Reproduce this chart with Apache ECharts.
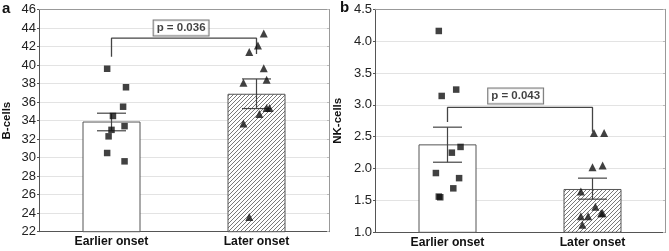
<!DOCTYPE html>
<html>
<head>
<meta charset="utf-8">
<script src="https://cdn.jsdelivr.net/npm/echarts@6/dist/echarts.min.js"></script>
<style>
html, body { margin: 0; padding: 0; background: #fff; }
#chart { width: 669px; height: 251px; }
</style>
</head>
<body>
<div id="chart"></div>
<script>
var categories = ['Earlier onset', 'Later onset'];

// panel a - B-cells
var bMean = [33.9, 36.9];
var bErrLow = [32.9, 35.3];
var bErrHigh = [34.8, 38.5];
var bEarly = [39.6, 37.6, 35.5, 34.5, 33.0, 33.4, 32.3, 30.5, 29.6];
var bEarlyDx = [-0.03, 0.10, 0.08, 0.01, 0, 0.09, -0.02, -0.03, 0.09];
var bLate = [43.4, 42.1, 41.4, 39.65, 38.1, 38.4, 35.35, 35.35, 34.7, 33.7, 23.6];
var bLateDx = [0.05, 0.01, -0.05, 0.05, -0.09, 0.07, 0.07, 0.09, 0.02, -0.09, -0.05];
var bBracket = [40.9, 42.9, 41.2];
var bPText = 'p = 0.036';
var bPPos = [0.48, 44.0];
var bTicks = [22, 46, 2];

// panel b - NK-cells
var nkMean = [2.38, 1.68];
var nkErrLow = [2.10, 1.52];
var nkErrHigh = [2.65, 1.85];
var nkEarly = [4.16, 3.14, 3.24, 2.34, 2.25, 1.93, 1.85, 1.69, 1.56, 1.55];
var nkEarlyDx = [-0.06, -0.04, 0.06, 0.09, 0.03, -0.08, 0.08, 0.04, -0.06, -0.05];
var nkLate = [2.56, 2.56, 2.02, 2.05, 1.64, 1.40, 1.25, 1.25, 1.30, 1.30, 1.12];
var nkLateDx = [0.01, 0.08, 0, 0.07, -0.08, 0.02, -0.08, -0.03, 0.06, 0.07, -0.07];
var nkBracket = [2.73, 2.96, 2.58];
var nkPText = 'p = 0.043';
var nkPPos = [0.47, 3.14];
var nkTicks = [1, 4.5, 0.5];

var myChart = echarts.init(document.getElementById('chart'));

// hatch fill for the "Later onset" bar
var hatch = document.createElement('canvas');
hatch.width = 4; hatch.height = 4;
var ctx = hatch.getContext('2d');
ctx.fillStyle = '#fff';
ctx.fillRect(0, 0, 4, 4);
ctx.strokeStyle = '#6a6a6a';
ctx.lineWidth = 0.9;
ctx.beginPath();
ctx.moveTo(0, 4); ctx.lineTo(4, 0);
ctx.moveTo(-1, 1); ctx.lineTo(1, -1);
ctx.moveTo(3, 5); ctx.lineTo(5, 3);
ctx.stroke();

var FONT = 'Liberation Sans, Arial, sans-serif';

function errRender(params, api) {
    var x = api.value(0), lo = api.value(1), hi = api.value(2);
    var pLo = api.coord([x, lo]), pHi = api.coord([x, hi]);
    var cl = api.coord([x - 0.1, lo])[0], cr = api.coord([x + 0.1, lo])[0];
    var st = { stroke: '#444', lineWidth: 1.2 };
    return {
        type: 'group',
        children: [
            { type: 'line', shape: { x1: pLo[0], y1: pLo[1], x2: pHi[0], y2: pHi[1] }, style: st },
            { type: 'line', shape: { x1: cl, y1: pLo[1], x2: cr, y2: pLo[1] }, style: st },
            { type: 'line', shape: { x1: cl, y1: pHi[1], x2: cr, y2: pHi[1] }, style: st }
        ]
    };
}

var xAxes = [], yAxes = [], series = [];

function addPanel(gi, name, ticks, mean, lo, hi, early, earlyDx, late, lateDx, bracket, pText, pPos, decimals) {
    xAxes.push({
        type: 'category', gridIndex: gi, data: categories,
        axisLine: { onZero: false, lineStyle: { color: '#555' } },
        axisTick: { show: true, alignWithLabel: true, inside: true, length: 2, lineStyle: { color: '#bbb' } },
        axisLabel: { color: '#111', fontWeight: 'bold', fontSize: 12.2, fontFamily: FONT, margin: 4 }
    });
    xAxes.push({
        type: 'value', gridIndex: gi, min: -0.5, max: 1.5, position: 'top',
        axisLine: { show: true, onZero: false, lineStyle: { color: '#999' } },
        axisTick: { show: false }, axisLabel: { show: false }, splitLine: { show: false }
    });
    yAxes.push({
        type: 'value', gridIndex: gi, min: ticks[0], max: ticks[1], interval: ticks[2],
        name: name, nameLocation: 'middle', nameGap: gi === 0 ? 26 : 31,
        nameTextStyle: { color: '#111', fontWeight: 'bold', fontSize: 11.5, fontFamily: FONT },
        axisLine: { show: true, onZero: false, lineStyle: { color: '#555' } },
        axisTick: { show: true, length: 2, lineStyle: { color: '#555' } },
        axisLabel: {
            color: '#222', fontSize: 13, fontFamily: FONT, margin: 3,
            formatter: function (v) { return v.toFixed(decimals); }
        },
        splitLine: { lineStyle: { color: '#e3e3e3' } }
    });
    yAxes.push({
        type: 'value', gridIndex: gi, min: ticks[0], max: ticks[1], interval: ticks[2], position: 'right',
        axisLine: { show: true, onZero: false, lineStyle: { color: '#999' } },
        axisTick: { show: true, inside: true, length: 2, lineStyle: { color: '#bbb' } },
        axisLabel: { show: false }, splitLine: { show: false }
    });
    var xc = 2 * gi, xv = 2 * gi + 1, y = 2 * gi;
    series.push({
        type: 'bar', xAxisIndex: xc, yAxisIndex: y, barWidth: '40%',
        itemStyle: { borderColor: '#555', borderWidth: 1 },
        data: [
            { value: mean[0], itemStyle: { color: '#fff' } },
            { value: mean[1], itemStyle: { color: { image: hatch, repeat: 'repeat' } } }
        ],
        z: 1
    });
    series.push({
        type: 'custom', xAxisIndex: xv, yAxisIndex: y, renderItem: errRender,
        encode: { x: 0, y: [1, 2] },
        data: [[0, lo[0], hi[0]], [1, lo[1], hi[1]]],
        z: 3
    });
    series.push({
        type: 'line', xAxisIndex: xv, yAxisIndex: y, symbol: 'none',
        lineStyle: { color: '#444', width: 1.3 },
        data: [[0, bracket[0]], [0, bracket[1]], [1, bracket[1]], [1, bracket[2]]],
        z: 3
    });
    series.push({
        type: 'scatter', xAxisIndex: xv, yAxisIndex: y, symbol: 'rect', symbolSize: 6.5,
        itemStyle: { color: '#111' },
        data: early.map(function (v, i) { return [earlyDx[i], v]; }),
        z: 4
    });
    series.push({
        type: 'scatter', xAxisIndex: xv, yAxisIndex: y, symbol: 'triangle', symbolSize: 8,
        itemStyle: { color: '#111' },
        data: late.map(function (v, i) { return [1 + lateDx[i], v]; }),
        z: 4
    });
    series.push({
        type: 'scatter', xAxisIndex: xv, yAxisIndex: y, symbolSize: 0,
        label: {
            show: true, position: 'inside', formatter: pText,
            color: '#111', fontWeight: 'bold', fontSize: 11.5, fontFamily: FONT,
            backgroundColor: '#fff', borderColor: '#555', borderWidth: 1, padding: [2, 3, 1, 3]
        },
        data: [pPos],
        z: 5
    });
}

addPanel(0, 'B-cells', bTicks, bMean, bErrLow, bErrHigh, bEarly, bEarlyDx, bLate, bLateDx, bBracket, bPText, bPPos, 0);
addPanel(1, 'NK-cells', nkTicks, nkMean, nkErrLow, nkErrHigh, nkEarly, nkEarlyDx, nkLate, nkLateDx, nkBracket, nkPText, nkPPos, 1);

option = {
    animation: false,
    backgroundColor: '#fff',
    grid: [
        { left: 33, right: 340, top: 9.5, bottom: 19.3 },
        { left: 375, right: 4, top: 9.3, bottom: 18.7 }
    ],
    xAxis: xAxes,
    yAxis: yAxes,
    series: series,
    graphic: [
        { type: 'text', left: 2, top: 1, style: { text: 'a', font: 'bold 15px ' + FONT, fill: '#111' } },
        { type: 'text', left: 340, top: 0, style: { text: 'b', font: 'bold 15px ' + FONT, fill: '#111' } }
    ]
};

myChart.setOption(option);
</script>
</body>
</html>
